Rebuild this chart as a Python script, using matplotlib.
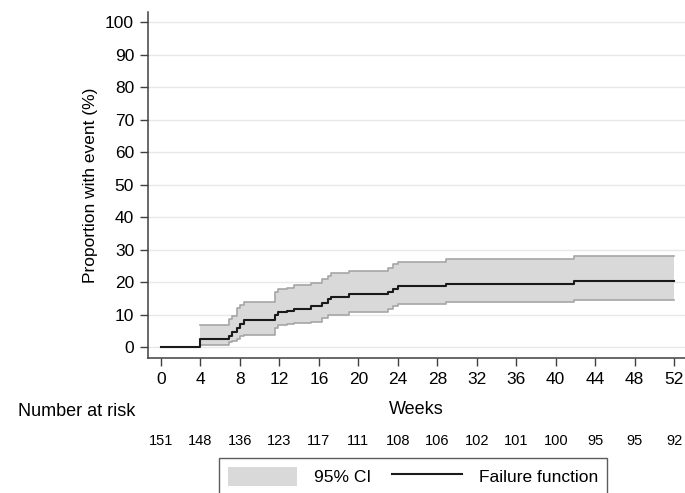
import numpy as np
import matplotlib
matplotlib.use("Agg")
import matplotlib.pyplot as plt
from matplotlib.patches import Patch
from matplotlib.lines import Line2D

plt.rcParams['font.family'] = ['Liberation Sans', 'DejaVu Sans']

# step times (weeks) and estimates (%)
weeks = [0, 4, 6.9, 7.2, 7.7, 8.0, 8.4, 11.6, 11.9, 12.8, 13.5, 15.2, 16.3, 16.9, 17.2,
         19.0, 23.0, 23.5, 24.0, 28.9, 41.9, 52]
failure = [0, 2.6, 3.6, 4.6, 6.0, 7.3, 8.3, 9.9, 10.9, 11.3, 11.9, 12.6, 13.5, 14.7, 15.6,
           16.3, 17.1, 18.0, 18.8, 19.6, 20.4, 20.4]
ci_lower = [np.nan, 0.6, 1.5, 2.0, 2.6, 3.4, 3.9, 5.9, 6.7, 7.2, 7.5, 7.9, 8.9, 9.8, 10.0,
            10.9, 11.9, 12.8, 13.2, 13.9, 14.5, 14.5]
ci_upper = [np.nan, 7.0, 8.8, 9.6, 12.2, 13.0, 14.0, 16.9, 17.9, 18.3, 19.0, 19.8, 21.1, 22.0, 22.8,
            23.4, 24.5, 25.6, 26.3, 27.2, 28.2, 28.2]

risk_weeks = [0, 4, 8, 12, 16, 20, 24, 28, 32, 36, 40, 44, 48, 52]
at_risk = [151, 148, 136, 123, 117, 111, 108, 106, 102, 101, 100, 95, 95, 92]

fig = plt.figure(figsize=(6.85, 4.93), dpi=100)
ax = fig.add_axes([148/685, 1 - 358/493, 537/685, 346/493])

w = np.array(weeks)
lo = np.array(ci_lower)
up = np.array(ci_upper)
m = ~np.isnan(lo)
ax.fill_between(w[m], lo[m], up[m], step='post', color='#d9d9d9', lw=0, zorder=2)
ax.step(w[m], lo[m], where='post', color='#a6a6a6', lw=1.2, zorder=3)
ax.step(w[m], up[m], where='post', color='#a6a6a6', lw=1.2, zorder=3)
ax.step(w, failure, where='post', color='#1a1a1a', lw=1.5, zorder=4)

ax.set_xlim(-1.32, 53.1)
ax.set_ylim(-3.3, 103.1)
ax.set_xticks(risk_weeks)
ax.set_yticks(range(0, 101, 10))
for y in range(0, 101, 10):
    ax.axhline(y, color='#e8e8e8', lw=1, zorder=1)

for s in ['top', 'right']:
    ax.spines[s].set_visible(False)
for s in ['left', 'bottom']:
    ax.spines[s].set_color('#404040')
    ax.spines[s].set_linewidth(1.1)
ax.tick_params(direction='out', length=6, width=1, color='#404040', labelsize=12.5, pad=4)

ax.set_xlabel('Weeks', fontsize=13, labelpad=10)
ax.set_ylabel('Proportion with event (%)', fontsize=12.5, labelpad=5)

# number at risk table
fig.text(18/685, 1 - 412/493, 'Number at risk', fontsize=13, va='center', ha='left')
for wk, n in zip(risk_weeks, at_risk):
    ax.annotate(str(n), xy=(wk, 1 - 441/493), xycoords=('data', 'figure fraction'),
                ha='center', va='center', fontsize=10.5)

handles = [Patch(facecolor='#d9d9d9', edgecolor='none', label='95% CI'),
           Line2D([], [], color='#1a1a1a', lw=1.5, label='Failure function')]
leg = fig.legend(handles=handles, loc='upper center', bbox_to_anchor=(413/685, 1 - 458/493),
                 ncol=2, fontsize=12.5, frameon=True, fancybox=False, handlelength=4.0,
                 handleheight=1.3, handletextpad=1.0, columnspacing=1.2, borderpad=0.5,
                 borderaxespad=0)
leg.get_frame().set_edgecolor('#333333')
leg.get_frame().set_linewidth(1)

fig.savefig('out.png', dpi=100)
